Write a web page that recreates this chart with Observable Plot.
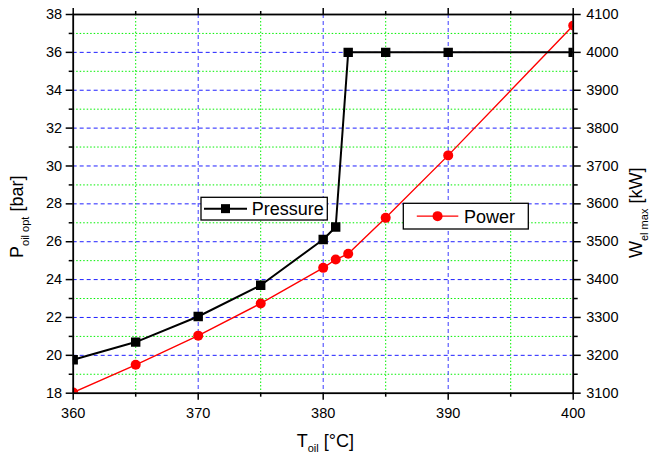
<!DOCTYPE html>
<html><head><meta charset="utf-8">
<script src="https://cdn.jsdelivr.net/npm/d3@7"></script>
<script src="https://cdn.jsdelivr.net/npm/@observablehq/plot@0.6"></script>
<style>body{margin:0;background:#fff}</style>
</head><body><div id="chart"></div>
<script>
// ---- data ----
const temperature = [360, 365, 370, 375, 380, 381, 382, 385, 390, 400];
const pressureBar = [19.77, 20.7, 22.05, 23.7, 26.12, 26.78, 36, 36, 36, 36];
const powerKW = [3102, 3175, 3252, 3337, 3431, 3453, 3468, 3563, 3728, 4071];
const xMajorTicks = [360, 370, 380, 390, 400];
const xMinorTicks = [365, 375, 385, 395];
const leftMajorTicks = [18, 20, 22, 24, 26, 28, 30, 32, 34, 36, 38];
const leftMinorTicks = [19, 21, 23, 25, 27, 29, 31, 33, 35, 37];
const rightMajorTicks = [3100, 3200, 3300, 3400, 3500, 3600, 3700, 3800, 3900, 4000, 4100];
const rightMinorTicks = [3150, 3250, 3350, 3450, 3550, 3650, 3750, 3850, 3950, 4050];
const seriesNames = ["Pressure", "Power"];

// right axis (kW) shares the plot's y scale: 3100 kW <-> 18 bar, 4100 kW <-> 38 bar
const toLeft = w => 18 + (w - 3100) / 50;
const toRight = p => 3100 + (p - 18) * 50;

const rows = temperature.map((t, i) => ({t, p: pressureBar[i], w: powerKW[i]}));

const font = "'Liberation Sans', Arial, sans-serif";
const plot = Plot.plot({
  width: 665, height: 454,
  marginLeft: 72.7, marginRight: 92.3, marginTop: 14, marginBottom: 61.3,
  style: {fontFamily: font, fontSize: "14.5px", background: "white", color: "black", overflow: "visible"},
  x: {domain: [360, 400]},
  y: {domain: [18, 38]},
  marks: [
    Plot.ruleX(xMinorTicks, {stroke: "#00f000", strokeWidth: 1, strokeDasharray: "1.5,2"}),
    Plot.ruleY(leftMinorTicks, {stroke: "#00f000", strokeWidth: 1, strokeDasharray: "1.5,2"}),
    Plot.ruleX(xMajorTicks.slice(1, -1), {stroke: "#3a3aff", strokeWidth: 1, strokeDasharray: "4,3"}),
    Plot.ruleY(leftMajorTicks.slice(1, -1), {stroke: "#2020ff", strokeWidth: 1, strokeDasharray: "4,3"}),
    Plot.line(rows, {x: "t", y: d => toLeft(d.w), stroke: "#ff0000", strokeWidth: 1.4, clip: true}),
    Plot.dot(rows, {x: "t", y: d => toLeft(d.w), r: 5, fill: "#ff0000", stroke: "none", clip: true}),
    Plot.line(rows, {x: "t", y: "p", stroke: "black", strokeWidth: 2, clip: true}),
    Plot.dot(rows, {x: "t", y: "p", symbol: "square", r: 5.3, fill: "black", stroke: "none", clip: true}),
    Plot.frame({stroke: "black", strokeWidth: 1.8}),
    Plot.axisX({ticks: xMajorTicks, tickSize: 7, tickPadding: 8, strokeWidth: 1.5, label: null, tickFormat: d => String(d)}),
    Plot.axisX({ticks: xMinorTicks, tickSize: 4, strokeWidth: 1.5, label: null, tickFormat: () => ""}),
    Plot.axisX({anchor: "top", ticks: xMajorTicks, tickSize: 7, strokeWidth: 1.5, label: null, tickFormat: () => ""}),
    Plot.axisX({anchor: "top", ticks: xMinorTicks, tickSize: 4, strokeWidth: 1.5, label: null, tickFormat: () => ""}),
    Plot.axisY({ticks: leftMajorTicks, tickSize: 7, tickPadding: 4, strokeWidth: 1.5, label: null, tickFormat: d => String(d)}),
    Plot.axisY({ticks: leftMinorTicks, tickSize: 4, strokeWidth: 1.5, label: null, tickFormat: () => ""}),
    Plot.axisY({anchor: "right", ticks: rightMajorTicks.map(toLeft), tickSize: 7, tickPadding: 6, strokeWidth: 1.5, label: null, tickFormat: d => String(Math.round(toRight(d)))}),
    Plot.axisY({anchor: "right", ticks: rightMinorTicks.map(toLeft), tickSize: 4, strokeWidth: 1.5, label: null, tickFormat: () => ""})
  ]
});
document.getElementById("chart").appendChild(plot);

const svg = d3.select(plot);

// axis titles with subscripts
function title(x, y, rotate, main, sub, rest) {
  const t = svg.append("text")
    .attr("transform", `translate(${x},${y})` + (rotate ? " rotate(-90)" : ""))
    .attr("text-anchor", "start")
    .attr("font-family", font).attr("font-size", 18).attr("fill", "black");
  t.append("tspan").text(main);
  t.append("tspan").attr("font-size", 11).attr("dy", 5.5).text(sub);
  t.append("tspan").attr("dy", -5.5).text(rest);
}
title(296.7, 446.7, false, "T", "oil", " [°C]");
title(23.3, 258, true, "P", "oil opt", " [bar]");
title(642, 258, true, "W", "el max", " [kW]");

// legends
function legend(x, y, w, h, name, color, square) {
  const g = svg.append("g");
  g.append("rect").attr("x", x).attr("y", y).attr("width", w).attr("height", h)
    .attr("fill", "white").attr("stroke", "black").attr("stroke-width", 1.3);
  const cy = y + h / 2;
  const lx1 = square ? x + 3 : x + 13.5;
  const lx2 = square ? x + 46 : x + 55;
  const mx = (lx1 + lx2) / 2;
  g.append("line").attr("x1", lx1).attr("x2", lx2).attr("y1", cy).attr("y2", cy)
    .attr("stroke", color).attr("stroke-width", square ? 2 : 1.4);
  if (square) g.append("rect").attr("x", mx - 4.5).attr("y", cy - 4.5).attr("width", 9).attr("height", 9).attr("fill", color);
  else g.append("circle").attr("cx", mx).attr("cy", cy).attr("r", 5).attr("fill", color);
  g.append("text").attr("x", square ? x + 50.7 : x + 60.7).attr("y", cy + 6.5)
    .attr("text-anchor", "start")
    .attr("font-family", font).attr("font-size", 18).attr("fill", "black").text(name);
}
legend(201, 197.3, 126.3, 22.7, seriesNames[0], "black", true);
legend(403.3, 203.3, 125, 25.7, seriesNames[1], "#ff0000", false);
</script>
</body></html>
